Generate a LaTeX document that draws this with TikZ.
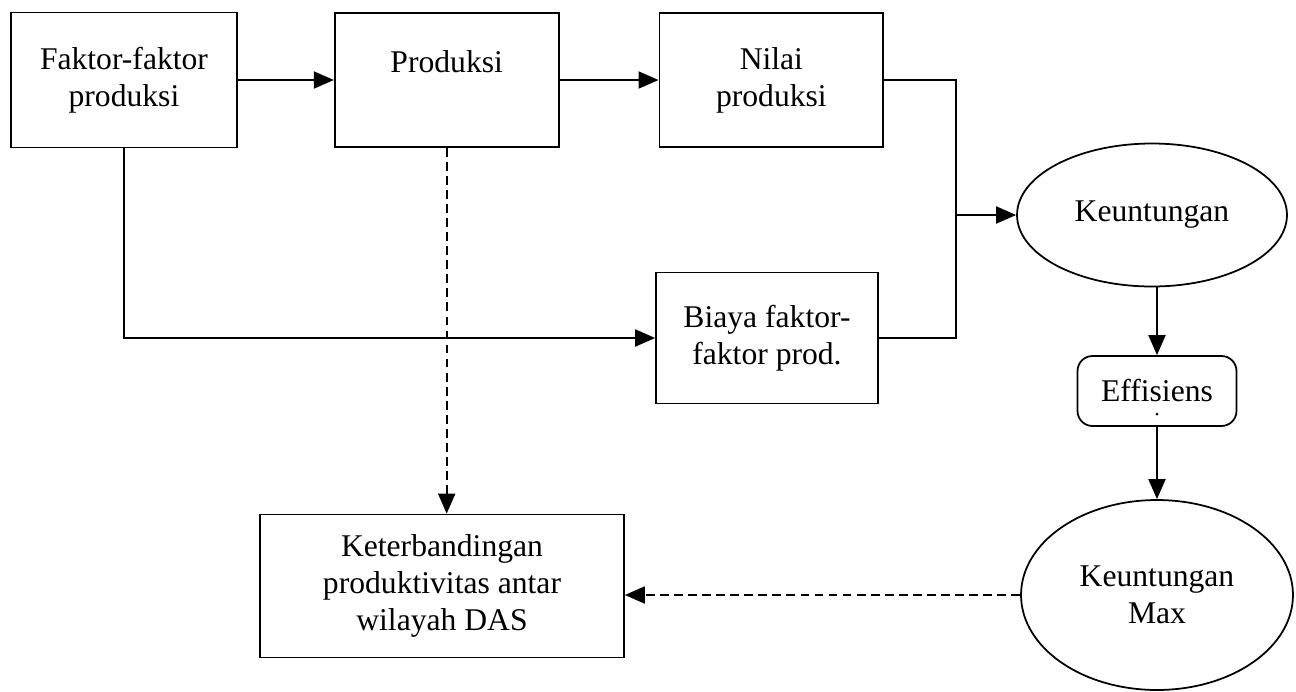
\documentclass[tikz,border=0pt]{standalone}
\usepackage{fontspec}
\setmainfont{Liberation Serif}
\usepackage{tikz}
\usetikzlibrary{positioning,shapes.geometric,arrows.meta}
\tikzset{
		lineStyle/.style  = {line width = 1.1pt},
		arrowStyle/.style = {lineStyle,-{Triangle[length=0.4cm,width=0.34cm]}},
		dashStyle/.style  = {arrowStyle,dash pattern=on 5pt off 3pt},
		box/.style        = {draw,line width=1pt,align=center,inner sep=2pt,
		                     font=\fontsize{18}{21}\selectfont},
		oval/.style       = {box,ellipse},
		node distance=1.95cm
}

\begin{document}
\begin{tikzpicture}[x=0.02cm,y=-0.02cm]
  \useasboundingbox (0,0) rectangle (1296,691);

  % Top row of boxes
  \node [box,minimum width=4.52cm,minimum height=2.7cm] (faktor) at (124,80) {Faktor-faktor\\produksi};
  \node [box,minimum width=4.48cm,minimum height=2.68cm,right=1.92cm of faktor] (produksi) {Produksi\\~};
  \node [box,minimum width=4.48cm,minimum height=2.68cm,right=1.98cm of produksi] (nilai) {Nilai\\produksi};

  % Cost box and comparison box
  \node [box,minimum width=4.44cm,minimum height=2.62cm] (biaya) at (767,338) {Biaya faktor-\\faktor prod.};
  \node [box,minimum width=7.28cm,minimum height=2.86cm] (banding) at (442,586) {Keterbandingan\\produktivitas antar\\wilayah DAS};

  % Right column
  \node [oval,minimum width=5.4cm,minimum height=2.86cm] (untung) at (1152,215) {Keuntungan};
  \node [box,rounded corners=0.3cm,minimum width=3.18cm,minimum height=1.4cm] (efisien) at (1157,391) {Effisiens};
  \fill (efisien.center) ++(0,23) circle (1.5);
  \node [oval,minimum width=5.44cm,minimum height=3.8cm] (untungMax) at (1157,595) {Keuntungan\\Max};

  % Connectors
  \draw [arrowStyle] (faktor) -- (produksi);
  \draw [arrowStyle] (produksi) -- (nilai);
  \draw [lineStyle] (nilai.east) -- ++(72,0) coordinate (join) |- (biaya.east);
  \draw [arrowStyle] (join |- untung.west) -- (untung.west);
  \draw [arrowStyle] (faktor.south) |- (biaya.west);
  \draw [dashStyle] (produksi.south) -- (produksi.south |- banding.north);
  \draw [arrowStyle] (untung.south -| efisien.north) -- (efisien.north);
  \draw [arrowStyle] (efisien) -- (untungMax);
  \draw [dashStyle] (untungMax.west) -- (untungMax.west -| banding.east);

\end{tikzpicture}
\end{document}
